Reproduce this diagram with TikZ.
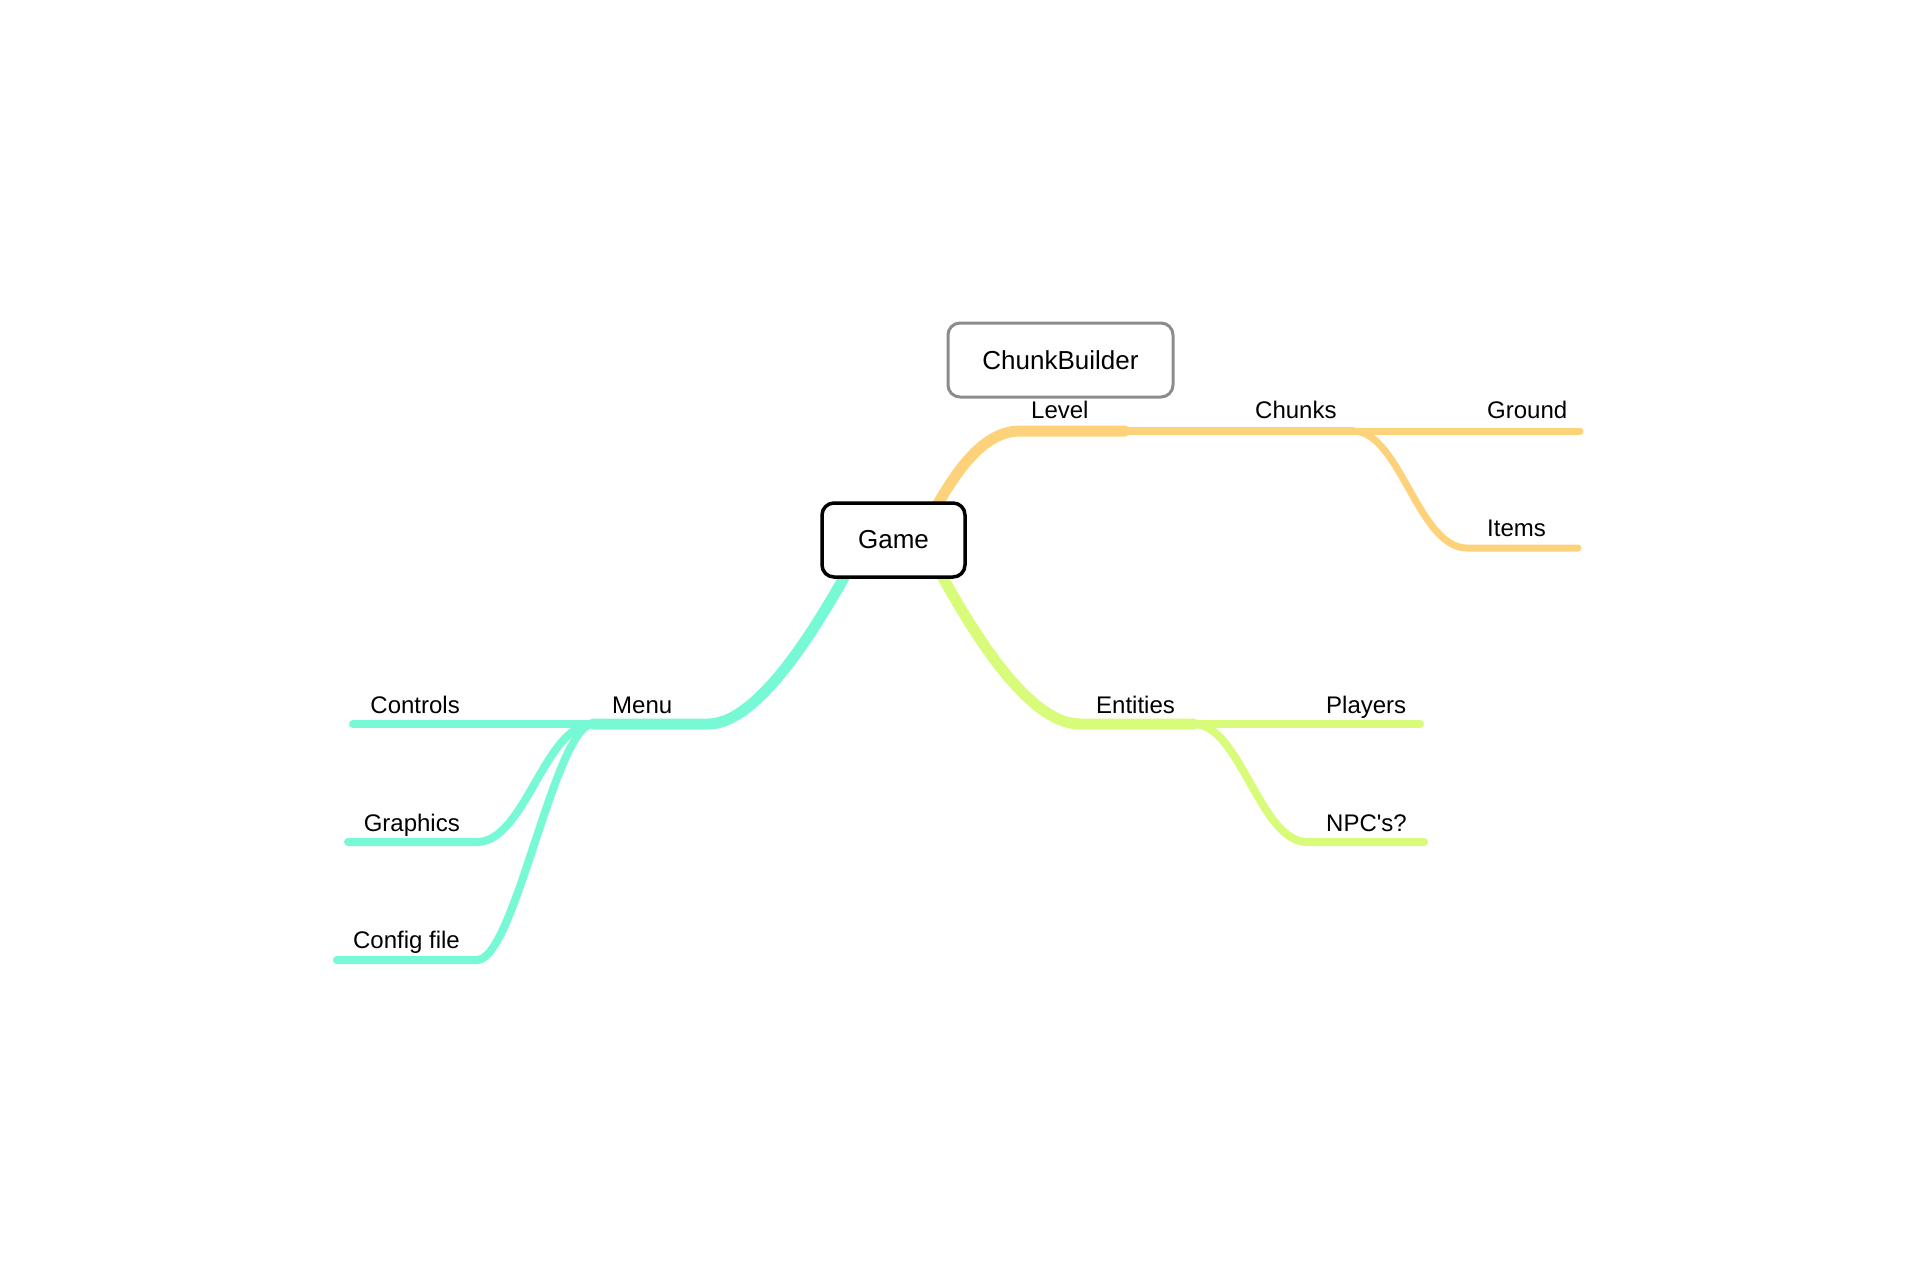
\documentclass[tikz,border=0pt]{standalone}
\usepackage{fontspec}
\setmainfont{Liberation Sans}
\definecolor{teal1}{RGB}{120,249,214}
\definecolor{lime1}{RGB}{216,251,122}
\definecolor{orng1}{RGB}{253,210,122}
\definecolor{gray1}{RGB}{140,140,140}
\begin{document}
\begin{tikzpicture}[x=1pt,y=-1pt,
  mainline/.style={line width=11pt,line cap=round},
  subline/.style={line width=8pt,line cap=round},
  leafline/.style={line width=7pt,line cap=round},
  boxnode/.style={draw,fill=white,rounded corners=12pt,line width=3.5pt,font=\fontsize{26}{30}\selectfont,inner sep=0pt},
  lbl/.style={inner sep=0pt,font=\fontsize{24}{28}\selectfont}]
\useasboundingbox (0,0) rectangle (1920,1280);
% coordinates
\coordinate (gs1) at (915,545);
\coordinate (gs2) at (925,545);
\coordinate (gs3) at (862,545);
\coordinate (lvl0) at (1020,431);
\coordinate (lvlj) at (1125,431);
\coordinate (chj) at (1353,431);
\coordinate (grd) at (1580,431);
\coordinate (itm0) at (1467,548);
\coordinate (itm) at (1578,548);
\coordinate (ent0) at (1080,724);
\coordinate (entj) at (1194,724);
\coordinate (ply) at (1420,724);
\coordinate (npc0) at (1307,842);
\coordinate (npc) at (1424,842);
\coordinate (men0) at (708,724);
\coordinate (menj) at (593,724);
\coordinate (ctl) at (353,724);
\coordinate (grp0) at (477,842);
\coordinate (grp) at (348,842);
\coordinate (cfg0) at (477,960);
\coordinate (cfg) at (337,960);
% orange
\draw[orng1,mainline] (gs1) .. controls (945,490) and (975,431) .. (lvl0) -- (lvlj);
\draw[orng1,subline] (lvlj) -- (chj);
\draw[orng1,leafline] (chj) -- (grd);
\draw[orng1,leafline] (chj) .. controls (1400,431) and (1418,548) .. (itm0) -- (itm);
% green
\draw[lime1,mainline] (gs2) .. controls (955,600) and (1020,724) .. (ent0) -- (entj);
\draw[lime1,subline] (entj) -- (ply);
\draw[lime1,subline] (entj) .. controls (1240,724) and (1260,842) .. (npc0) -- (npc);
% teal
\draw[teal1,mainline] (gs3) .. controls (832,600) and (765,724) .. (men0) -- (menj);
\draw[teal1,subline] (menj) -- (ctl);
\draw[teal1,subline] (menj) .. controls (545,724) and (525,842) .. (grp0) -- (grp);
\draw[teal1,subline] (menj) .. controls (555,724) and (515,960) .. (cfg0) -- (cfg);
% boxes
\node[boxnode,minimum width=143pt,minimum height=74pt] (game) at (893.5,540) {Game};
\node[boxnode,draw=gray1,line width=3pt,minimum width=225pt,minimum height=74pt] (cb) at (1060.5,360) {ChunkBuilder};
% labels
\node[lbl,anchor=base west] (level) at (1031,418) {Level};
\node[lbl,anchor=base west] (chunks) at (1255,418) {Chunks};
\node[lbl,anchor=base west] (ground) at (1487,418) {Ground};
\node[lbl,anchor=base west] (items) at (1487,536) {Items};
\node[lbl,anchor=base west] (entities) at (1096,713) {Entities};
\node[lbl,anchor=base west] (players) at (1326,713) {Players};
\node[lbl,anchor=base west] (npcs) at (1326,831) {NPC\textquotesingle s?};
\node[lbl,anchor=base west] (menu) at (612,713) {Menu};
\node[lbl,anchor=base east] (controls) at (460,713) {Controls};
\node[lbl,anchor=base east] (graphics) at (460,831) {Graphics};
\node[lbl,anchor=base east] (config) at (460,948) {Config file};
\end{tikzpicture}
\end{document}
